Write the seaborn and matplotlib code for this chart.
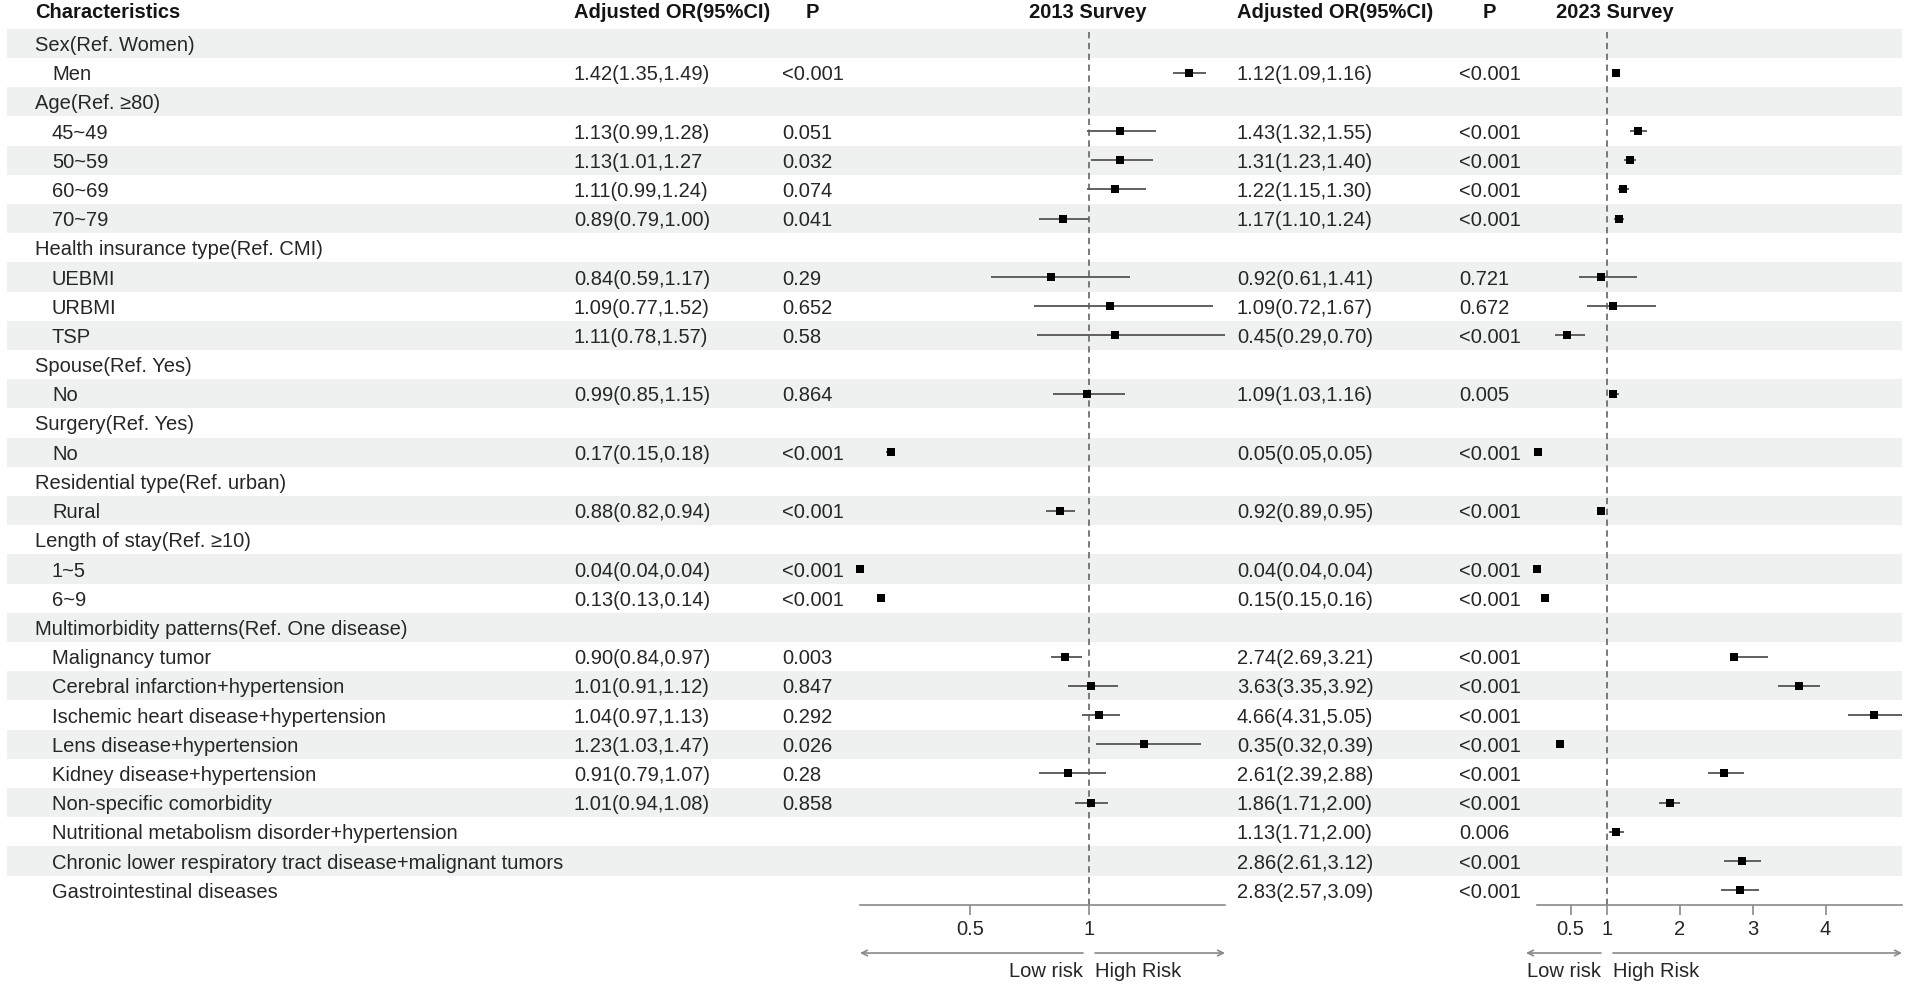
import numpy as np
import pandas as pd
import matplotlib
matplotlib.use("Agg")
import matplotlib.pyplot as plt
import matplotlib.transforms as mtransforms
import seaborn as sns

nan = np.nan

# ---------------- data ----------------
row_labels = [
    "Sex(Ref. Women)", "Men",
    "Age(Ref. \u226580)", "45~49", "50~59", "60~69", "70~79",
    "Health insurance type(Ref. CMI)", "UEBMI", "URBMI", "TSP",
    "Spouse(Ref. Yes)", "No",
    "Surgery(Ref. Yes)", "No",
    "Residential type(Ref. urban)", "Rural",
    "Length of stay(Ref. \u226510)", "1~5", "6~9",
    "Multimorbidity patterns(Ref. One disease)", "Malignancy tumor",
    "Cerebral infarction+hypertension", "Ischemic heart disease+hypertension",
    "Lens disease+hypertension", "Kidney disease+hypertension",
    "Non-specific comorbidity", "Nutritional metabolism disorder+hypertension",
    "Chronic lower respiratory tract disease+malignant tumors",
    "Gastrointestinal diseases",
]
is_group = [True, False, True, False, False, False, False, True, False, False, False,
            True, False, True, False, True, False, True, False, False, True,
            False, False, False, False, False, False, False, False, False]

or_2013 = [nan, 1.42, nan, 1.13, 1.13, 1.11, 0.89, nan, 0.84, 1.09, 1.11, nan, 0.99, nan, 0.17,
           nan, 0.88, nan, 0.04, 0.13, nan, 0.90, 1.01, 1.04, 1.23, 0.91, 1.01, nan, nan, nan]
lo_2013 = [nan, 1.35, nan, 0.99, 1.01, 0.99, 0.79, nan, 0.59, 0.77, 0.78, nan, 0.85, nan, 0.15,
           nan, 0.82, nan, 0.04, 0.13, nan, 0.84, 0.91, 0.97, 1.03, 0.79, 0.94, nan, nan, nan]
hi_2013 = [nan, 1.49, nan, 1.28, 1.27, 1.24, 1.00, nan, 1.17, 1.52, 1.57, nan, 1.15, nan, 0.18,
           nan, 0.94, nan, 0.04, 0.14, nan, 0.97, 1.12, 1.13, 1.47, 1.07, 1.08, nan, nan, nan]
txt_2013 = ["", "1.42(1.35,1.49)", "", "1.13(0.99,1.28)", "1.13(1.01,1.27", "1.11(0.99,1.24)",
            "0.89(0.79,1.00)", "", "0.84(0.59,1.17)", "1.09(0.77,1.52)", "1.11(0.78,1.57)", "",
            "0.99(0.85,1.15)", "", "0.17(0.15,0.18)", "", "0.88(0.82,0.94)", "", "0.04(0.04,0.04)",
            "0.13(0.13,0.14)", "", "0.90(0.84,0.97)", "1.01(0.91,1.12)", "1.04(0.97,1.13)",
            "1.23(1.03,1.47)", "0.91(0.79,1.07)", "1.01(0.94,1.08)", "", "", ""]
p_2013 = ["", "<0.001", "", "0.051", "0.032", "0.074", "0.041", "", "0.29", "0.652", "0.58", "",
          "0.864", "", "<0.001", "", "<0.001", "", "<0.001", "<0.001", "", "0.003", "0.847",
          "0.292", "0.026", "0.28", "0.858", "", "", ""]

or_2023 = [nan, 1.12, nan, 1.43, 1.31, 1.22, 1.17, nan, 0.92, 1.09, 0.45, nan, 1.09, nan, 0.05,
           nan, 0.92, nan, 0.04, 0.15, nan, 2.74, 3.63, 4.66, 0.35, 2.61, 1.86, 1.13, 2.86, 2.83]
lo_2023 = [nan, 1.09, nan, 1.32, 1.23, 1.15, 1.10, nan, 0.61, 0.72, 0.29, nan, 1.03, nan, 0.05,
           nan, 0.89, nan, 0.04, 0.15, nan, 2.69, 3.35, 4.31, 0.32, 2.39, 1.71, 1.03, 2.61, 2.57]
hi_2023 = [nan, 1.16, nan, 1.55, 1.40, 1.30, 1.24, nan, 1.41, 1.67, 0.70, nan, 1.16, nan, 0.05,
           nan, 0.95, nan, 0.04, 0.16, nan, 3.21, 3.92, 5.05, 0.39, 2.88, 2.00, 1.23, 3.12, 3.09]
txt_2023 = ["", "1.12(1.09,1.16)", "", "1.43(1.32,1.55)", "1.31(1.23,1.40)", "1.22(1.15,1.30)",
            "1.17(1.10,1.24)", "", "0.92(0.61,1.41)", "1.09(0.72,1.67)", "0.45(0.29,0.70)", "",
            "1.09(1.03,1.16)", "", "0.05(0.05,0.05)", "", "0.92(0.89,0.95)", "", "0.04(0.04,0.04)",
            "0.15(0.15,0.16)", "", "2.74(2.69,3.21)", "3.63(3.35,3.92)", "4.66(4.31,5.05)",
            "0.35(0.32,0.39)", "2.61(2.39,2.88)", "1.86(1.71,2.00)", "1.13(1.71,2.00)",
            "2.86(2.61,3.12)", "2.83(2.57,3.09)"]
p_2023 = ["", "<0.001", "", "<0.001", "<0.001", "<0.001", "<0.001", "", "0.721", "0.672",
          "<0.001", "", "0.005", "", "<0.001", "", "<0.001", "", "<0.001", "<0.001", "",
          "<0.001", "<0.001", "<0.001", "<0.001", "<0.001", "<0.001", "0.006", "<0.001", "<0.001"]

ticks_2013 = [0.5, 1]
ticks_2023 = [0.5, 1, 2, 3, 4]
headers = ["Characteristics", "Adjusted OR(95%CI)", "P", "2013 Survey",
           "Adjusted OR(95%CI)", "P", "2023 Survey"]

# ---------------- style ----------------
sns.set_theme(style="white")
plt.rcParams["font.family"] = ["Liberation Sans", "DejaVu Sans"]
FS = 14.5
TXT = "#262626"
HDR = "#141414"
BAND = "#eef1f0"
AXC = "#8a8a8a"

W, H = 1908, 986
fig = plt.figure(figsize=(W / 100, H / 100), dpi=100)

Y0, RH = 43.4, 29.2           # px centre of first row, row height (px)
n = len(row_labels)
top_px = Y0 - RH / 2
bot_px = Y0 + (n - 0.5) * RH

bg = fig.add_axes([0, 0, 1, 1], zorder=0)
bg.set_xlim(0, W)
bg.set_ylim((H - Y0) / RH, -Y0 / RH)
bg.axis("off")

# alternating bands
for i in range(n):
    if i % 2 == 0:
        bg.fill_between([7, 1902], i - 0.5, i + 0.5, color=BAND, lw=0, zorder=0)

hdr_row = (12 - Y0) / RH
X_CAT, X_SUB = 35, 52
X_OR13, X_P13 = 574, 782
X_OR23, X_P23 = 1237, 1459

hkw = dict(fontsize=FS, fontweight="bold", color=HDR, va="center")
bg.text(X_CAT, hdr_row, headers[0], **hkw)
bg.text(X_OR13, hdr_row, headers[1], **hkw)
bg.text(X_P13 + 24, hdr_row, headers[2], **hkw)
bg.text(1088, hdr_row, headers[3], ha="center", **hkw)
bg.text(X_OR23, hdr_row, headers[4], **hkw)
bg.text(X_P23 + 24, hdr_row, headers[5], **hkw)
bg.text(1556, hdr_row, headers[6], **hkw)

tkw = dict(fontsize=FS, color=TXT, va="center_baseline")
for i, lab in enumerate(row_labels):
    bg.text(X_CAT if is_group[i] else X_SUB, i, lab, **tkw)
    if txt_2013[i]:
        bg.text(X_OR13, i, txt_2013[i], **tkw)
    if p_2013[i]:
        bg.text(X_P13, i, p_2013[i], **tkw)
    if txt_2023[i]:
        bg.text(X_OR23, i, txt_2023[i], **tkw)
    if p_2023[i]:
        bg.text(X_P23, i, p_2023[i], **tkw)


def forest(left_px, est, lo, hi, ticks, left_ext_px):
    ax = fig.add_axes([left_px / W, (H - bot_px) / H, 365 / W, (bot_px - top_px) / H], zorder=2)
    ax.set_facecolor("none")
    df = pd.DataFrame({"row": np.arange(n), "est": est, "lo": lo, "hi": hi}).dropna()
    ax.hlines(df["row"], df["lo"], df["hi"], color="#5a5a5a", lw=1.35, zorder=2, clip_on=False)
    sns.scatterplot(data=df, x="est", y="row", marker="s", color="black", s=30,
                    linewidth=0, ax=ax, zorder=3, legend=False, clip_on=False)
    xmin, xmax = np.nanmin(lo), np.nanmax(hi)
    ax.set_xlim(xmin, xmax)
    ax.set_ylim(n - 0.5, -0.5)
    ax.axvline(1, color="#6f6f6f", lw=1.3, ls=(0, (3.5, 2.5)), zorder=1)
    for s in ["top", "right", "left"]:
        ax.spines[s].set_visible(False)
    ax.spines["bottom"].set_color(AXC)
    ax.spines["bottom"].set_linewidth(1.2)
    ax.set_yticks([])
    ax.set_xticks(ticks)
    ax.set_xticklabels([f"{t:g}" for t in ticks])
    ax.tick_params(axis="x", bottom=True, direction="out", length=7, width=1.2, color=AXC,
                   labelsize=FS, labelcolor=TXT, pad=4)
    ax.set_xlabel("")
    ax.set_ylabel("")
    # risk arrows
    trans = mtransforms.blended_transform_factory(ax.transData, bg.transData)
    ppu = 365 / (xmax - xmin)
    gap = 6 / ppu
    ya = (953 - Y0) / RH
    yl = (971 - Y0) / RH
    arr = dict(arrowstyle="->", color=AXC, lw=1.2, shrinkA=0, shrinkB=0, mutation_scale=10)
    ax.annotate("", xy=(xmin - left_ext_px / ppu, ya), xytext=(1 - gap, ya), xycoords=trans,
                textcoords=trans, arrowprops=arr, annotation_clip=False)
    ax.annotate("", xy=(xmax, ya), xytext=(1 + gap, ya), xycoords=trans, textcoords=trans,
                arrowprops=arr, annotation_clip=False)
    ax.text(1 - gap, yl, "Low risk", transform=trans, ha="right", va="center",
            fontsize=FS, color=TXT)
    ax.text(1 + gap, yl, "High Risk", transform=trans, ha="left", va="center",
            fontsize=FS, color=TXT)
    return ax


forest(860, or_2013, lo_2013, hi_2013, ticks_2013, 0)
forest(1537, or_2023, lo_2023, hi_2023, ticks_2023, 11)

fig.savefig("out.png", dpi=100)
